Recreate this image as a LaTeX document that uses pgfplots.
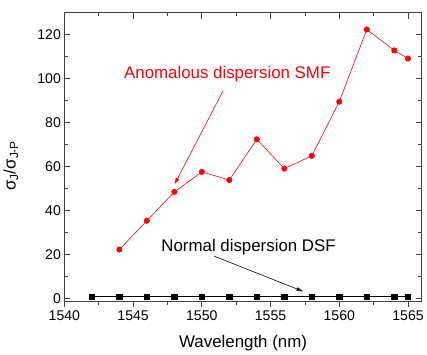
\documentclass[border=0pt]{standalone}
\usepackage{fontspec}
\setmainfont{Liberation Sans}
\usepackage{pgfplots}
\pgfplotsset{compat=1.18}
\usetikzlibrary{arrows.meta}
\begin{document}
\begin{tikzpicture}
\pgfplotsset{myax/.style={scale only axis, width=359bp, height=290bp,
  xmin=1540, xmax=1566, ymin=-1.2, ymax=130,
  xtick={1540,1545,...,1565}, ytick={0,20,...,120},
  minor x tick num=1, minor y tick num=1,
  major tick length=6bp, minor tick length=3.5bp,
  /pgf/number format/assume math mode=true,
  /pgf/number format/set thousands separator={},
  tick label style={font=\fontsize{14.2}{16}\selectfont},
  label style={font=\fontsize{17}{19}\selectfont},
  axis line style={black!75, line width=1.2bp},
  every tick/.style={black!75, line width=0.8bp}}}
\begin{axis}[myax, tick align=inside, xtick pos=right, xticklabels={},
  ylabel={σ\textsubscript{J}/σ\textsubscript{J-P}},
  ylabel style={at={(axis description cs:-0.15,0.47)}, anchor=center}]
\addplot[black, line width=0.6bp, mark=square*, mark size=2.6bp, mark options={solid}]
  coordinates {(1542,1.0)(1544,1.0)(1546,1.0)(1548,1.0)(1550,1.0)(1552,1.0)(1554,1.0)(1556,1.0)(1558,1.0)(1560,1.0)(1562,1.0)(1564,1.0)(1565,1.0)};
\addplot[red, line width=0.6bp, mark=*, mark size=2.7bp, mark options={solid}]
  coordinates {(1544,22.4)(1546,35.5)(1548,48.6)(1550,57.7)(1552,54.0)(1554,72.5)(1556,59.2)(1558,65.0)(1560,89.6)(1562,122.4)(1564,112.9)(1565,109.2)};
\node[red, font=\fontsize{17}{19}\selectfont] at (axis cs:1551.85,102) {Anomalous dispersion SMF};
\node[black, font=\fontsize{17}{19}\selectfont] at (axis cs:1553.4,23.5) {Normal dispersion DSF};
\draw[red, line width=0.6bp, -{Latex[length=7bp,width=4bp]}] (axis cs:1551.56,94.7) -- (axis cs:1548.0,51.9);
\draw[black, line width=0.6bp, -{Latex[length=7bp,width=4bp]}] (axis cs:1550.9,19.4) -- (axis cs:1557.4,3.3);
\end{axis}
\begin{axis}[myax, axis x line*=bottom, hide y axis, tick align=outside,
  xlabel={Wavelength (nm)},
  xlabel style={at={(axis description cs:0.5,-0.145)}, anchor=center}]
\end{axis}
\path ([yshift=6bp]current bounding box.north);
\end{tikzpicture}
\end{document}
